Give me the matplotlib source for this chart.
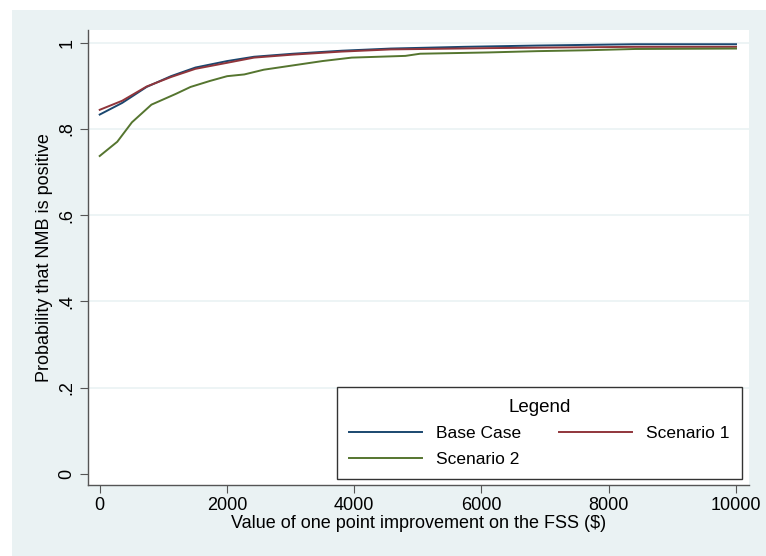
#!/usr/bin/env python3
"""
Probability that NMB is positive vs. value of one point improvement on the FSS.
"""

import matplotlib
matplotlib.use("Agg")
import matplotlib.pyplot as plt
from matplotlib.patches import Rectangle

# Values
x_base = [0, 353, 737, 1120, 1504, 2003, 2425, 3039, 3807, 4574, 5725, 6876, 8411, 10000]
y_base = [0.833, 0.860, 0.897, 0.922, 0.942, 0.957, 0.967, 0.974, 0.981, 0.986, 0.990, 0.993, 0.996, 0.996]

x_s1 = [0, 353, 737, 1120, 1504, 2003, 2425, 3039, 3807, 4574, 6109, 8411, 10000]
y_s1 = [0.844, 0.865, 0.898, 0.920, 0.939, 0.953, 0.965, 0.972, 0.979, 0.984, 0.987, 0.990, 0.990]

x_s2 = [0, 276, 506, 813, 1197, 1427, 1734, 2003, 2272, 2579, 3039, 3500, 3960,
        4804, 5035, 6109, 6876, 7644, 8411, 10000]
y_s2 = [0.737, 0.770, 0.815, 0.856, 0.881, 0.897, 0.911, 0.922, 0.926, 0.937, 0.947,
        0.957, 0.965, 0.969, 0.974, 0.977, 0.980, 0.982, 0.985, 0.986]

series_labels = ["Base Case", "Scenario 1", "Scenario 2"]
y_ticks = [0, 0.2, 0.4, 0.6, 0.8, 1]
y_tick_labels = ["0", ".2", ".4", ".6", ".8", "1"]
x_ticks = [0, 2000, 4000, 6000, 8000, 10000]

BG = "#eaf2f3"
plt.rcParams["font.family"] = ["Liberation Sans", "DejaVu Sans"]

fig = plt.figure(figsize=(7.66, 5.56), dpi=100, facecolor="white")
# Stata-style light outer region
fig.patches.append(Rectangle((12 / 766, 0), 1, 1 - 10 / 556,
                             transform=fig.transFigure, facecolor=BG,
                             edgecolor="none", zorder=-10))

ax = fig.add_axes([88 / 766, 1 - 485 / 556, (749 - 88) / 766, (485 - 30) / 556])
ax.set_facecolor("white")

l_base, = ax.plot(x_base, y_base, color="#1a476f", lw=1.4, label=series_labels[0], zorder=3)
l_s1, = ax.plot(x_s1, y_s1, color="#90353b", lw=1.4, label=series_labels[1], zorder=3)
l_s2, = ax.plot(x_s2, y_s2, color="#55752f", lw=1.4, label=series_labels[2], zorder=3)

ax.set_xlim(-184, 10204)
ax.set_ylim(-0.0255, 1.029)

ax.set_yticks(y_ticks)
ax.set_yticklabels(y_tick_labels, rotation=90, va="center", fontsize=13)
ax.set_xticks(x_ticks)
ax.set_xticklabels([str(t) for t in x_ticks], fontsize=13)

for yv in y_ticks[1:]:
    ax.axhline(yv, color=BG, lw=1.2, zorder=1)

for side in ["top", "right"]:
    ax.spines[side].set_visible(False)
for side in ["left", "bottom"]:
    ax.spines[side].set_color("#555555")
    ax.spines[side].set_linewidth(1.0)
ax.tick_params(length=6, color="#555555", pad=3)

ax.set_xlabel("Value of one point improvement on the FSS ($)", fontsize=13, labelpad=0)
ax.set_ylabel("Probability that NMB is positive", fontsize=13, labelpad=4)

# column-major fill: Base Case / Scenario 2 in col 1, Scenario 1 in col 2
leg = ax.legend([l_base, l_s2, l_s1],
                [series_labels[0], series_labels[2], series_labels[1]],
                ncol=2, title="Legend", fontsize=12.5, title_fontsize=13.5,
                loc="lower right", bbox_to_anchor=(0.989, 0.013),
                handlelength=4.2, handletextpad=0.8, columnspacing=2.2,
                borderaxespad=0, fancybox=False, framealpha=1,
                edgecolor="#333333", borderpad=0.7, labelspacing=0.6)
leg.get_frame().set_linewidth(1.0)

plt.savefig("out.png", dpi=100, facecolor=fig.get_facecolor())
